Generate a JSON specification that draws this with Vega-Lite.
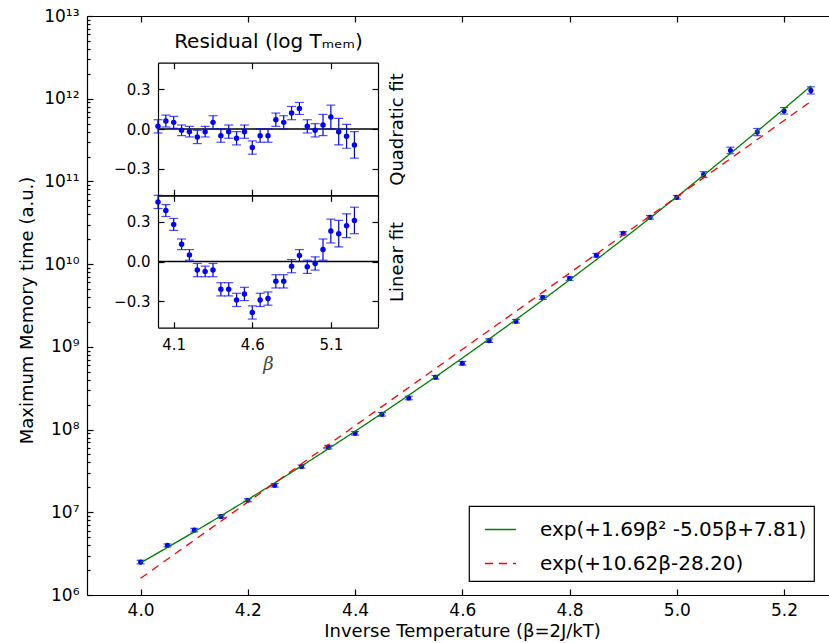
{
  "$schema": "https://vega.github.io/schema/vega-lite/v6.json",
  "width": 742,
  "height": 579,
  "autosize": "none",
  "padding": {"left": 87, "top": 16, "right": 0, "bottom": 48},
  "background": "white",
  "datasets": {
    "main": [
      {"beta": 4.00, "T": 2.50e6, "lo": 2.38e6, "hi": 2.63e6},
      {"beta": 4.05, "T": 3.98e6, "lo": 3.82e6, "hi": 4.14e6},
      {"beta": 4.10, "T": 6.09e6, "lo": 5.79e6, "hi": 6.40e6},
      {"beta": 4.15, "T": 8.91e6, "lo": 8.56e6, "hi": 9.27e6},
      {"beta": 4.20, "T": 1.40e7, "lo": 1.345e7, "hi": 1.457e7},
      {"beta": 4.25, "T": 2.12e7, "lo": 2.017e7, "hi": 2.229e7},
      {"beta": 4.30, "T": 3.57e7, "lo": 3.43e7, "hi": 3.716e7},
      {"beta": 4.35, "T": 6.13e7, "lo": 5.83e7, "hi": 6.44e7},
      {"beta": 4.40, "T": 9.02e7, "lo": 8.58e7, "hi": 9.48e7},
      {"beta": 4.45, "T": 1.53e8, "lo": 1.455e8, "hi": 1.608e8},
      {"beta": 4.50, "T": 2.41e8, "lo": 2.292e8, "hi": 2.534e8},
      {"beta": 4.55, "T": 4.29e8, "lo": 4.081e8, "hi": 4.51e8},
      {"beta": 4.60, "T": 6.34e8, "lo": 6.03e8, "hi": 6.665e8},
      {"beta": 4.65, "T": 1.19e9, "lo": 1.132e9, "hi": 1.251e9},
      {"beta": 4.70, "T": 2.04e9, "lo": 1.94e9, "hi": 2.145e9},
      {"beta": 4.75, "T": 3.94e9, "lo": 3.748e9, "hi": 4.142e9},
      {"beta": 4.80, "T": 6.71e9, "lo": 6.383e9, "hi": 7.054e9},
      {"beta": 4.85, "T": 1.28e10, "lo": 1.218e10, "hi": 1.346e10},
      {"beta": 4.90, "T": 2.36e10, "lo": 2.256e10, "hi": 2.469e10},
      {"beta": 4.95, "T": 3.68e10, "lo": 3.50e10, "hi": 3.869e10},
      {"beta": 5.00, "T": 6.42e10, "lo": 6.107e10, "hi": 6.749e10},
      {"beta": 5.05, "T": 1.21e11, "lo": 1.117e11, "hi": 1.311e11},
      {"beta": 5.10, "T": 2.37e11, "lo": 2.166e11, "hi": 2.593e11},
      {"beta": 5.15, "T": 3.95e11, "lo": 3.574e11, "hi": 4.365e11},
      {"beta": 5.20, "T": 7.14e11, "lo": 6.525e11, "hi": 7.813e11},
      {"beta": 5.25, "T": 1.26e12, "lo": 1.140e12, "hi": 1.393e12}
    ],
    "fits": [
      {"fit": "exp(+1.69β² -5.05β+7.81)", "beta": 4.00, "T": 2.446e6},
      {"fit": "exp(+1.69β² -5.05β+7.81)", "beta": 4.05, "T": 3.752e6},
      {"fit": "exp(+1.69β² -5.05β+7.81)", "beta": 4.10, "T": 5.80e6},
      {"fit": "exp(+1.69β² -5.05β+7.81)", "beta": 4.15, "T": 9.06e6},
      {"fit": "exp(+1.69β² -5.05β+7.81)", "beta": 4.20, "T": 1.426e7},
      {"fit": "exp(+1.69β² -5.05β+7.81)", "beta": 4.25, "T": 2.263e7},
      {"fit": "exp(+1.69β² -5.05β+7.81)", "beta": 4.30, "T": 3.624e7},
      {"fit": "exp(+1.69β² -5.05β+7.81)", "beta": 4.35, "T": 5.85e7},
      {"fit": "exp(+1.69β² -5.05β+7.81)", "beta": 4.40, "T": 9.54e7},
      {"fit": "exp(+1.69β² -5.05β+7.81)", "beta": 4.45, "T": 1.567e8},
      {"fit": "exp(+1.69β² -5.05β+7.81)", "beta": 4.50, "T": 2.597e8},
      {"fit": "exp(+1.69β² -5.05β+7.81)", "beta": 4.55, "T": 4.34e8},
      {"fit": "exp(+1.69β² -5.05β+7.81)", "beta": 4.60, "T": 7.32e8},
      {"fit": "exp(+1.69β² -5.05β+7.81)", "beta": 4.65, "T": 1.245e9},
      {"fit": "exp(+1.69β² -5.05β+7.81)", "beta": 4.70, "T": 2.135e9},
      {"fit": "exp(+1.69β² -5.05β+7.81)", "beta": 4.75, "T": 3.69e9},
      {"fit": "exp(+1.69β² -5.05β+7.81)", "beta": 4.80, "T": 6.45e9},
      {"fit": "exp(+1.69β² -5.05β+7.81)", "beta": 4.85, "T": 1.134e10},
      {"fit": "exp(+1.69β² -5.05β+7.81)", "beta": 4.90, "T": 2.014e10},
      {"fit": "exp(+1.69β² -5.05β+7.81)", "beta": 4.95, "T": 3.61e10},
      {"fit": "exp(+1.69β² -5.05β+7.81)", "beta": 5.00, "T": 6.51e10},
      {"fit": "exp(+1.69β² -5.05β+7.81)", "beta": 5.05, "T": 1.187e11},
      {"fit": "exp(+1.69β² -5.05β+7.81)", "beta": 5.10, "T": 2.18e11},
      {"fit": "exp(+1.69β² -5.05β+7.81)", "beta": 5.15, "T": 4.04e11},
      {"fit": "exp(+1.69β² -5.05β+7.81)", "beta": 5.20, "T": 7.55e11},
      {"fit": "exp(+1.69β² -5.05β+7.81)", "beta": 5.25, "T": 1.424e12},
      {"fit": "exp(+10.62β-28.20)", "beta": 4.00, "T": 1.591e6},
      {"fit": "exp(+10.62β-28.20)", "beta": 5.25, "T": 9.27e11}
    ],
    "quad": [
      {"beta": 4.00, "r": 0.02, "lo": -0.03, "hi": 0.07},
      {"beta": 4.05, "r": 0.06, "lo": 0.015, "hi": 0.105},
      {"beta": 4.10, "r": 0.05, "lo": 0.005, "hi": 0.095},
      {"beta": 4.15, "r": -0.01, "lo": -0.05, "hi": 0.03},
      {"beta": 4.20, "r": -0.02, "lo": -0.06, "hi": 0.02},
      {"beta": 4.25, "r": -0.06, "lo": -0.11, "hi": -0.01},
      {"beta": 4.30, "r": -0.02, "lo": -0.06, "hi": 0.02},
      {"beta": 4.35, "r": 0.05, "lo": 0.0, "hi": 0.10},
      {"beta": 4.40, "r": -0.05, "lo": -0.10, "hi": 0.0},
      {"beta": 4.45, "r": -0.02, "lo": -0.07, "hi": 0.03},
      {"beta": 4.50, "r": -0.07, "lo": -0.12, "hi": -0.02},
      {"beta": 4.55, "r": -0.02, "lo": -0.07, "hi": 0.03},
      {"beta": 4.60, "r": -0.14, "lo": -0.19, "hi": -0.09},
      {"beta": 4.65, "r": -0.05, "lo": -0.10, "hi": 0.0},
      {"beta": 4.70, "r": -0.05, "lo": -0.10, "hi": 0.0},
      {"beta": 4.75, "r": 0.07, "lo": 0.02, "hi": 0.12},
      {"beta": 4.80, "r": 0.05, "lo": 0.0, "hi": 0.10},
      {"beta": 4.85, "r": 0.12, "lo": 0.07, "hi": 0.17},
      {"beta": 4.90, "r": 0.155, "lo": 0.11, "hi": 0.20},
      {"beta": 4.95, "r": 0.02, "lo": -0.03, "hi": 0.07},
      {"beta": 5.00, "r": -0.01, "lo": -0.06, "hi": 0.04},
      {"beta": 5.05, "r": 0.03, "lo": -0.05, "hi": 0.11},
      {"beta": 5.10, "r": 0.09, "lo": 0.0, "hi": 0.18},
      {"beta": 5.15, "r": -0.02, "lo": -0.12, "hi": 0.08},
      {"beta": 5.20, "r": -0.055, "lo": -0.145, "hi": 0.035},
      {"beta": 5.25, "r": -0.12, "lo": -0.22, "hi": -0.02}
    ],
    "lin": [
      {"beta": 4.00, "r": 0.45, "lo": 0.40, "hi": 0.50},
      {"beta": 4.05, "r": 0.385, "lo": 0.34, "hi": 0.43},
      {"beta": 4.10, "r": 0.28, "lo": 0.235, "hi": 0.325},
      {"beta": 4.15, "r": 0.13, "lo": 0.09, "hi": 0.17},
      {"beta": 4.20, "r": 0.05, "lo": 0.01, "hi": 0.09},
      {"beta": 4.25, "r": -0.065, "lo": -0.115, "hi": -0.015},
      {"beta": 4.30, "r": -0.075, "lo": -0.115, "hi": -0.035},
      {"beta": 4.35, "r": -0.065, "lo": -0.115, "hi": -0.015},
      {"beta": 4.40, "r": -0.21, "lo": -0.26, "hi": -0.16},
      {"beta": 4.45, "r": -0.21, "lo": -0.26, "hi": -0.16},
      {"beta": 4.50, "r": -0.29, "lo": -0.34, "hi": -0.24},
      {"beta": 4.55, "r": -0.245, "lo": -0.295, "hi": -0.195},
      {"beta": 4.60, "r": -0.385, "lo": -0.435, "hi": -0.335},
      {"beta": 4.65, "r": -0.29, "lo": -0.34, "hi": -0.24},
      {"beta": 4.70, "r": -0.28, "lo": -0.33, "hi": -0.23},
      {"beta": 4.75, "r": -0.15, "lo": -0.20, "hi": -0.10},
      {"beta": 4.80, "r": -0.15, "lo": -0.20, "hi": -0.10},
      {"beta": 4.85, "r": -0.035, "lo": -0.085, "hi": 0.015},
      {"beta": 4.90, "r": 0.045, "lo": 0.0, "hi": 0.09},
      {"beta": 4.95, "r": -0.04, "lo": -0.09, "hi": 0.01},
      {"beta": 5.00, "r": -0.015, "lo": -0.065, "hi": 0.035},
      {"beta": 5.05, "r": 0.09, "lo": 0.01, "hi": 0.17},
      {"beta": 5.10, "r": 0.23, "lo": 0.14, "hi": 0.32},
      {"beta": 5.15, "r": 0.21, "lo": 0.11, "hi": 0.31},
      {"beta": 5.20, "r": 0.27, "lo": 0.18, "hi": 0.36},
      {"beta": 5.25, "r": 0.31, "lo": 0.21, "hi": 0.41}
    ]
  },
  "layer": [
    {
      "layer": [
        {
          "data": {"name": "main"},
          "mark": {"type": "rule", "color": "#0000ff", "strokeWidth": 1.2},
          "encoding": {
            "x": {"field": "beta", "type": "quantitative", "axis": null, "scale": {"domain": [3.9, 5.2838], "nice": false, "zero": false}},
            "y": {"field": "lo", "type": "quantitative", "axis": null, "scale": {"type": "log", "domain": [1e6, 1e13], "nice": false}},
            "y2": {"field": "hi"}
          }
        },
        {
          "data": {"name": "main"},
          "mark": {"type": "tick", "orient": "horizontal", "color": "#0000ff", "size": 8, "thickness": 1.2},
          "encoding": {
            "x": {"field": "beta", "type": "quantitative", "axis": null},
            "y": {"field": "lo", "type": "quantitative", "axis": null, "scale": {"type": "log"}}
          }
        },
        {
          "data": {"name": "main"},
          "mark": {"type": "tick", "orient": "horizontal", "color": "#0000ff", "size": 8, "thickness": 1.2},
          "encoding": {
            "x": {"field": "beta", "type": "quantitative", "axis": null},
            "y": {"field": "hi", "type": "quantitative", "axis": null, "scale": {"type": "log"}}
          }
        },
        {
          "data": {"name": "main"},
          "mark": {"type": "circle", "color": "#0000ff", "size": 26, "opacity": 1},
          "encoding": {
            "x": {"field": "beta", "type": "quantitative", "axis": {"orient": "top", "values": [4.0, 4.2, 4.4, 4.6, 4.8, 5.0, 5.2], "labels": false, "tickSize": -6, "title": null}},
            "y": {"field": "T", "type": "quantitative", "scale": {"type": "log"}, "axis": {"orient": "left", "domain": false, "labels": false, "tickSize": -3, "title": null,
              "values": [2e6, 3e6, 4e6, 5e6, 6e6, 7e6, 8e6, 9e6, 2e7, 3e7, 4e7, 5e7, 6e7, 7e7, 8e7, 9e7, 2e8, 3e8, 4e8, 5e8, 6e8, 7e8, 8e8, 9e8, 2e9, 3e9, 4e9, 5e9, 6e9, 7e9, 8e9, 9e9, 2e10, 3e10, 4e10, 5e10, 6e10, 7e10, 8e10, 9e10, 2e11, 3e11, 4e11, 5e11, 6e11, 7e11, 8e11, 9e11, 2e12, 3e12, 4e12, 5e12, 6e12, 7e12, 8e12, 9e12]}}
          }
        },
        {
          "data": {"name": "fits"},
          "mark": {"type": "line", "strokeWidth": 1.3},
          "encoding": {
            "x": {"field": "beta", "type": "quantitative", "axis": {"orient": "bottom", "values": [4.0, 4.2, 4.4, 4.6, 4.8, 5.0, 5.2], "format": ".1f", "tickSize": -6, "labelPadding": 13, "labelFontSize": 17,
              "title": "Inverse Temperature (β=2J/kT)", "titleFontSize": 18, "titleX": 375, "titleY": 41, "titleBaseline": "alphabetic"}},
            "y": {"field": "T", "type": "quantitative", "scale": {"type": "log"}, "axis": {"orient": "left", "values": [1e6, 1e7, 1e8, 1e9, 1e10, 1e11, 1e12, 1e13], "tickSize": -6, "labelPadding": 14, "labelFontSize": 17,
              "labelExpr": "datum.value < 5e6 ? '10⁶' : datum.value < 5e7 ? '10⁷' : datum.value < 5e8 ? '10⁸' : datum.value < 5e9 ? '10⁹' : datum.value < 5e10 ? '10¹⁰' : datum.value < 5e11 ? '10¹¹' : datum.value < 5e12 ? '10¹²' : '10¹³'",
              "title": "Maximum Memory time (a.u.)", "titleFontSize": 18, "titleAngle": 270, "titleX": -55, "titleY": 294, "titleBaseline": "alphabetic"}},
            "color": {"field": "fit", "type": "nominal", "scale": {"domain": ["exp(+1.69β² -5.05β+7.81)", "exp(+10.62β-28.20)"], "range": ["#008000", "#ff0000"]},
              "legend": {"title": null, "orient": "none", "legendX": 382, "legendY": 490}},
            "strokeDash": {"field": "fit", "type": "nominal", "scale": {"domain": ["exp(+1.69β² -5.05β+7.81)", "exp(+10.62β-28.20)"], "range": [[1, 0], [8, 6]]},
              "legend": {"title": null, "orient": "none", "legendX": 382, "legendY": 490}}
          }
        }
      ],
      "resolve": {"axis": {"x": "independent", "y": "independent"}}
    },
    {
      "layer": [
        {
          "data": {"values": [{}]},
          "mark": {"type": "rule", "color": "black", "strokeWidth": 1.3},
          "encoding": {
            "x": {"datum": 4.0, "type": "quantitative", "axis": null, "scale": {"domain": [4.0, 5.4], "range": [71, 291], "nice": false, "zero": false}},
            "x2": {"datum": 5.4},
            "y": {"datum": 0, "type": "quantitative", "axis": null, "scale": {"domain": [-0.5, 0.5], "range": [179.3, 46.7], "nice": false, "zero": false}}
          }
        },
        {
          "data": {"name": "quad"},
          "mark": {"type": "rule", "color": "#0000ff", "strokeWidth": 1.2},
          "encoding": {
            "x": {"field": "beta", "type": "quantitative", "axis": null},
            "y": {"field": "lo", "type": "quantitative", "axis": null},
            "y2": {"field": "hi"}
          }
        },
        {
          "data": {"name": "quad"},
          "mark": {"type": "tick", "orient": "horizontal", "color": "#0000ff", "size": 9, "thickness": 1.2},
          "encoding": {
            "x": {"field": "beta", "type": "quantitative", "axis": null},
            "y": {"field": "lo", "type": "quantitative", "axis": null}
          }
        },
        {
          "data": {"name": "quad"},
          "mark": {"type": "tick", "orient": "horizontal", "color": "#0000ff", "size": 9, "thickness": 1.2},
          "encoding": {
            "x": {"field": "beta", "type": "quantitative", "axis": null},
            "y": {"field": "hi", "type": "quantitative", "axis": null}
          }
        },
        {
          "data": {"name": "quad"},
          "mark": {"type": "circle", "color": "#0000ff", "size": 30, "opacity": 1},
          "encoding": {
            "x": {"field": "beta", "type": "quantitative", "axis": {"orient": "bottom", "offset": -399.7, "values": [4.1, 4.6, 5.1], "labels": false, "tickSize": -6, "title": null}},
            "y": {"field": "r", "type": "quantitative", "axis": {"orient": "left", "offset": -71, "values": [-0.3, 0, 0.3], "format": ".1f", "tickSize": -6, "labelPadding": 14, "labelFontSize": 15, "title": null}}
          }
        },
        {
          "data": {"name": "quad"},
          "mark": {"type": "point", "opacity": 0},
          "encoding": {
            "x": {"field": "beta", "type": "quantitative", "axis": {"orient": "top", "offset": -46.7, "values": [4.1, 4.6, 5.1], "labels": false, "tickSize": -6,
              "title": "Residual (log Tₘₑₘ)", "titleFontSize": 20, "titleX": 181, "titleY": -15, "titleBaseline": "alphabetic"}},
            "y": {"field": "r", "type": "quantitative", "axis": {"orient": "right", "offset": -451, "values": [-0.3, 0, 0.3], "labels": false, "tickSize": -6,
              "title": "Quadratic fit", "titleFontSize": 18, "titleAngle": 270, "titleX": 19, "titleY": 113, "titleBaseline": "middle", "titleAlign": "center"}}
          }
        }
      ],
      "resolve": {"axis": {"x": "independent", "y": "independent"}}
    },
    {
      "layer": [
        {
          "data": {"values": [{}]},
          "mark": {"type": "rule", "color": "black", "strokeWidth": 1.3},
          "encoding": {
            "x": {"datum": 4.0, "type": "quantitative", "axis": null, "scale": {"domain": [4.0, 5.4], "range": [71, 291], "nice": false, "zero": false}},
            "x2": {"datum": 5.4},
            "y": {"datum": 0, "type": "quantitative", "axis": null, "scale": {"domain": [-0.5, 0.5], "range": [311.7, 179.3], "nice": false, "zero": false}}
          }
        },
        {
          "data": {"name": "lin"},
          "mark": {"type": "rule", "color": "#0000ff", "strokeWidth": 1.2},
          "encoding": {
            "x": {"field": "beta", "type": "quantitative", "axis": null},
            "y": {"field": "lo", "type": "quantitative", "axis": null},
            "y2": {"field": "hi"}
          }
        },
        {
          "data": {"name": "lin"},
          "mark": {"type": "tick", "orient": "horizontal", "color": "#0000ff", "size": 9, "thickness": 1.2},
          "encoding": {
            "x": {"field": "beta", "type": "quantitative", "axis": null},
            "y": {"field": "lo", "type": "quantitative", "axis": null}
          }
        },
        {
          "data": {"name": "lin"},
          "mark": {"type": "tick", "orient": "horizontal", "color": "#0000ff", "size": 9, "thickness": 1.2},
          "encoding": {
            "x": {"field": "beta", "type": "quantitative", "axis": null},
            "y": {"field": "hi", "type": "quantitative", "axis": null}
          }
        },
        {
          "data": {"name": "lin"},
          "mark": {"type": "circle", "color": "#0000ff", "size": 30, "opacity": 1},
          "encoding": {
            "x": {"field": "beta", "type": "quantitative", "axis": {"orient": "bottom", "offset": -267.3, "values": [4.1, 4.6, 5.1], "format": ".1f", "tickSize": -6, "labelPadding": 16, "labelFontSize": 15,
              "title": "β", "titleFont": "DejaVu Serif", "titleFontStyle": "italic", "titleColor": "#444444", "titleFontSize": 18, "titleX": 181, "titleY": 42, "titleBaseline": "alphabetic"}},
            "y": {"field": "r", "type": "quantitative", "axis": {"orient": "left", "offset": -71, "values": [-0.3, 0, 0.3], "format": ".1f", "tickSize": -6, "labelPadding": 14, "labelFontSize": 15, "title": null}}
          }
        },
        {
          "data": {"name": "lin"},
          "mark": {"type": "point", "opacity": 0},
          "encoding": {
            "x": {"field": "beta", "type": "quantitative", "axis": {"orient": "top", "offset": -179.3, "values": [4.1, 4.6, 5.1], "labels": false, "tickSize": -6, "title": null}},
            "y": {"field": "r", "type": "quantitative", "axis": {"orient": "right", "offset": -451, "values": [-0.3, 0, 0.3], "labels": false, "tickSize": -6,
              "title": "Linear fit", "titleFontSize": 18, "titleAngle": 270, "titleX": 19, "titleY": 245.5, "titleBaseline": "middle", "titleAlign": "center"}}
          }
        }
      ],
      "resolve": {"axis": {"x": "independent", "y": "independent"}}
    }
  ],
  "resolve": {"scale": {"x": "independent", "y": "independent"}},
  "config": {
    "font": "DejaVu Sans",
    "view": {"stroke": null},
    "axis": {
      "grid": false,
      "labelFont": "DejaVu Sans",
      "titleFont": "DejaVu Sans",
      "titleFontWeight": "normal",
      "labelColor": "black",
      "titleColor": "black",
      "domainColor": "black",
      "domainWidth": 1.2,
      "tickColor": "black",
      "tickWidth": 1.2
    },
    "legend": {
      "labelFont": "DejaVu Sans",
      "labelFontSize": 20,
      "labelColor": "black",
      "labelLimit": 400,
      "labelOffset": 23,
      "symbolType": "stroke",
      "symbolSize": 961,
      "symbolStrokeWidth": 1.3,
      "symbolOffset": 8,
      "rowPadding": 7,
      "padding": 7,
      "strokeColor": "black",
      "strokeWidth": 1.2,
      "fillColor": "white",
      "cornerRadius": 0
    }
  }
}
